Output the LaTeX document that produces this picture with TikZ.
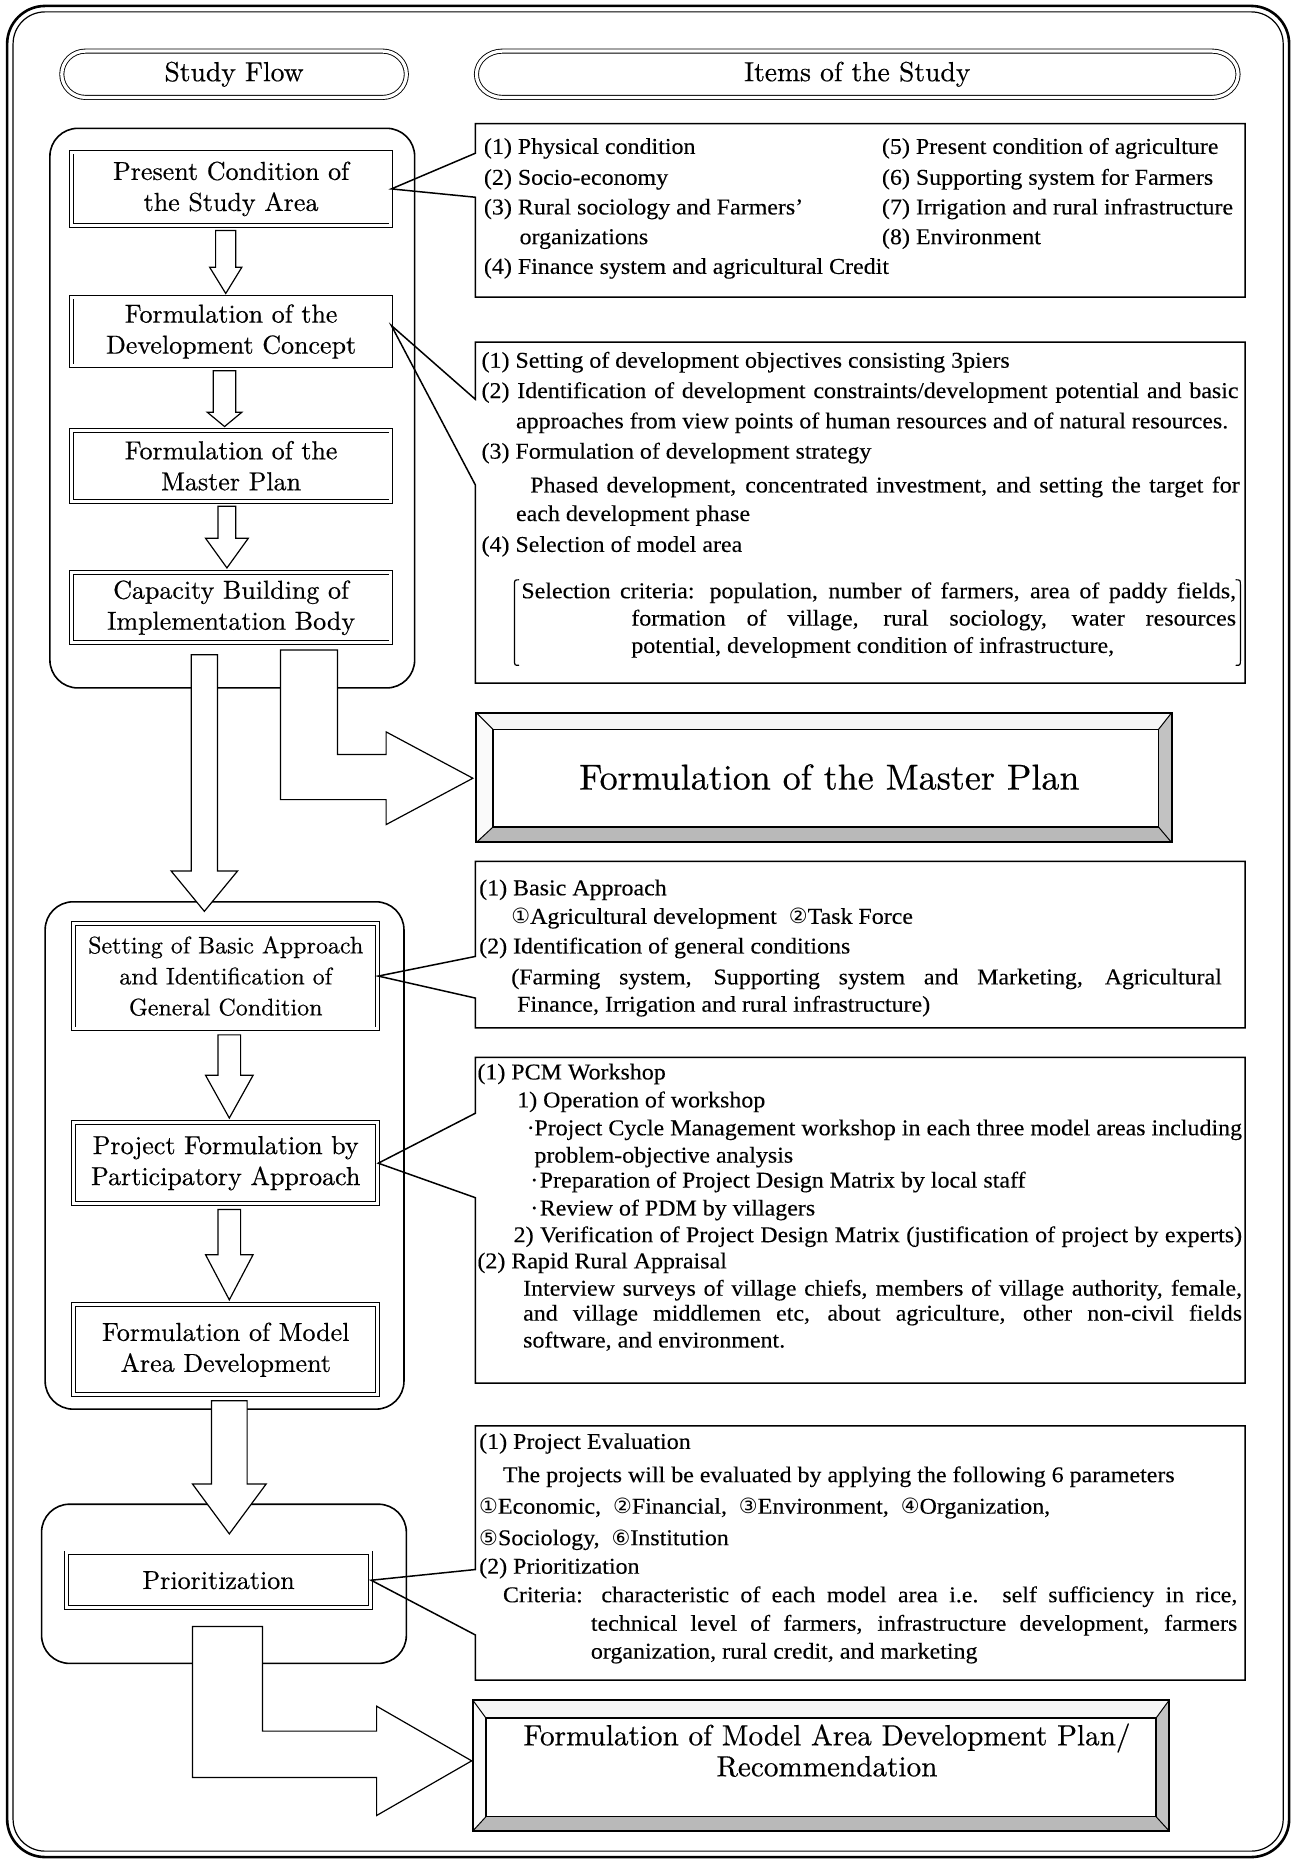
\documentclass[tikz,border=0pt]{standalone}
\usepackage{fontspec}
\newfontfamily\itemfont[FakeStretch=1.06,FakeBold=0.2]{Liberation Serif}
\newfontfamily\flowfont[FakeBold=0.45]{lmroman10-regular.otf}
\newfontfamily\circfont{DejaVu Sans}
\newlength\unitlen
\setlength\unitlen{0.5943pt}
\newcommand\itemsize{\itemfont\fontsize{11.3}{13.5}\selectfont}
\newcommand\flowsize{\flowfont\fontsize{13}{15.5}\selectfont}
\newcommand\circno[1]{{\circfont\fontsize{10.5}{12}\selectfont #1}}
% one line of item text: name, x, centre y, text
\newcommand\itemline[4]{\node[txt] (#1) at (#2,{#3+4.5}) {#4};}
% one justified line of item text: name, x, centre y, width, text
\newcommand\itemjust[5]{\node[txt] (#1) at (#2,{#3+4.5}) {\makebox[#4\unitlen][s]{#5}};}
% block arrow pointing down: centre x, top, head top, tip, half shaft, half head
\newcommand\downblock[6]{\draw[blockarrow] ({#1-#5},#2) -- ({#1+#5},#2) -- ({#1+#5},#3) -- ({#1+#6},#3) -- (#1,#4) -- ({#1-#6},#3) -- ({#1-#5},#3) -- cycle;}
% heading lens: x1, x2, y1, y2, end radius
\newcommand\lens[5]{\draw[lensline] ({#1+#5},#3) -- ({#2-#5},#3) arc[start angle=-90,end angle=90,x radius=#5,y radius={(#4-#3)/2}] -- ({#1+#5},#4) arc[start angle=90,end angle=270,x radius=#5,y radius={(#4-#3)/2}] -- cycle;}
% bevelled result box: x1, y1, x2, y2, inset left, top, right, bottom
\newcommand\bevel[8]{%
  \fill[gray!7] (#1,#2) -- (#3,#2) -- ({#3-#7},{#2+#6}) -- ({#1+#5},{#2+#6}) -- cycle;
  \fill[gray!4] (#1,#2) -- ({#1+#5},{#2+#6}) -- ({#1+#5},{#4-#8}) -- (#1,#4) -- cycle;
  \fill[gray!48] (#3,#2) -- (#3,#4) -- ({#3-#7},{#4-#8}) -- ({#3-#7},{#2+#6}) -- cycle;
  \fill[gray!55] (#1,#4) -- ({#1+#5},{#4-#8}) -- ({#3-#7},{#4-#8}) -- (#3,#4) -- cycle;
  \draw[line width=0.5pt] (#1,#2) -- ({#1+#5},{#2+#6}) (#3,#2) -- ({#3-#7},{#2+#6})
        (#1,#4) -- ({#1+#5},{#4-#8}) (#3,#4) -- ({#3-#7},{#4-#8});
  \draw[line width=0.6pt] ({#1+#5},{#2+#6}) rectangle ({#3-#7},{#4-#8});
  \draw[line width=1pt] (#1,#2) rectangle (#3,#4);}

\begin{document}
\begin{tikzpicture}[x=\unitlen,y=-\unitlen,
  frameouter/.style={draw,line width=1.3pt,rounded corners=19pt},
  frameinner/.style={draw,line width=0.6pt,rounded corners=16pt},
  lensline/.style={draw,line width=0.45pt,double,double distance=1.6pt},
  lenstext/.style={font=\flowfont\fontsize{13.8}{16}\selectfont,inner sep=0pt},
  group/.style={draw,line width=0.8pt,rounded corners=14pt},
  flowbox/.style={draw,line width=0.45pt,double,double distance=1.5pt,align=center,font=\flowsize,inner sep=0pt},
  callout/.style={draw,line width=0.75pt,line join=miter},
  blockarrow/.style={draw,fill=white,line width=0.6pt,line join=miter},
  txt/.style={anchor=base west,inner sep=0pt,font=\itemsize},
  bullet/.style={anchor=base west,inner sep=0pt,font=\itemsize},
  title/.style={align=center,inner sep=0pt},
]
\fill[white] (0,0) rectangle (1089,1568);
\useasboundingbox (0,0) rectangle (1089,1568);

% outer frame
\draw[frameouter] (6,5) rectangle (1085,1563);
\draw[frameinner] (11,10) rectangle (1080,1558);

% column headings
\lens{52}{342}{43}{82}{20}
\node[lenstext] (hdrflow) at (197,62.5) {Study Flow};
\lens{401}{1042}{43}{82}{22}
\node[lenstext] (hdritems) at (721.5,62.5) {Items of the Study};

% groups of the study flow
\draw[group] (42,108) rectangle (349,579);
\draw[group] (38,759) rectangle (340,1186);
\draw[group] (35,1266) rectangle (342,1400);

% steps of the study flow
\node[flowbox,minimum width=269\unitlen,minimum height=62\unitlen] (boxA) at (194.5,159) {Present Condition of\\the Study Area};
\node[flowbox,minimum width=269\unitlen,minimum height=58\unitlen] (boxB) at (194.5,279) {Formulation of the\\Development Concept};
\node[flowbox,minimum width=269\unitlen,minimum height=60\unitlen] (boxC) at (194.5,392) {Formulation of the\\Master Plan};
\node[flowbox,minimum width=269\unitlen,minimum height=59\unitlen] (boxD) at (194.5,511.5) {Capacity Building of\\Implementation Body};
\node[flowbox,minimum width=256\unitlen,minimum height=89\unitlen,font=\flowfont\fontsize{12}{15.5}\selectfont] (boxE) at (190,821.5) {Setting of Basic Approach\\and Identification of\\General Condition};
\node[flowbox,minimum width=256\unitlen,minimum height=68\unitlen] (boxF) at (190,979) {Project Formulation by\\Participatory Approach};
\node[flowbox,minimum width=256\unitlen,minimum height=76\unitlen] (boxG) at (190,1136) {Formulation of Model\\Area Development};
\node[flowbox,minimum width=256\unitlen,minimum height=46\unitlen] (boxH) at (184,1330) {Prioritization};

% callouts with the items of the study
\draw[callout] (400,129) -- (400,104) -- (1048,104) -- (1048,250) -- (400,250) -- (400,166) -- (boxA.east) -- cycle;
\draw[callout] (400,336) -- (400,288) -- (1048,288) -- (1048,575) -- (400,575) -- (400,408) -- ([yshift=3pt]boxB.east) -- cycle;
\draw[callout] (400,805) -- (400,725) -- (1048,725) -- (1048,865) -- (400,865) -- (400,840) -- (boxE.east) -- cycle;
\draw[callout] (400,937) -- (400,890) -- (1048,890) -- (1048,1164) -- (400,1164) -- (400,1008) -- (boxF.east) -- cycle;
\draw[callout] (400,1321) -- (400,1200) -- (1048,1200) -- (1048,1414) -- (400,1414) -- (400,1376) -- (boxH.east) -- cycle;

% items: present condition
\itemline{a1}{407}{125}{(1) Physical condition}
\itemline{a2}{407}{151}{(2) Socio-economy}
\itemline{a3}{407}{176}{(3) Rural sociology and Farmers’}
\itemline{a3b}{437}{201}{organizations}
\itemline{a4}{407}{226}{(4) Finance system and agricultural Credit}
\itemline{a5}{742}{125}{(5) Present condition of agriculture}
\itemline{a6}{742}{151}{(6) Supporting system for Farmers}
\itemline{a7}{742}{176}{(7) Irrigation and rural infrastructure}
\itemline{a8}{742}{201}{(8) Environment}

% items: development concept
\itemline{b1}{405}{305}{(1) Setting of development objectives consisting 3piers}
\itemjust{b2}{405}{330.5}{637}{(2) Identification of development constraints/development potential and basic}
\itemline{b2b}{434}{356}{approaches from view points of human resources and of natural resources.}
\itemline{b3}{405}{381.5}{(3) Formulation of development strategy}
\itemjust{b3b}{446}{410}{597}{Phased development, concentrated investment, and setting the target for}
\itemline{b3c}{434}{434}{each development phase}
\itemline{b4}{405}{460}{(4) Selection of model area}
\itemjust{b4b}{438.5}{499}{601.5}{Selection criteria: population, number of farmers, area of paddy fields,}
\itemjust{b4c}{531}{522}{509}{formation of village, rural sociology, water resources}
\itemline{b4d}{531}{545}{potential, development condition of infrastructure,}
\draw[line width=0.6pt] (437,488) .. controls (433,488) .. (433,493) -- (433,555) .. controls (433,560) .. (437,560);
\draw[line width=0.6pt] (1040,488) .. controls (1044,488) .. (1044,493) -- (1044,555) .. controls (1044,560) .. (1040,560);

% result of the first stage
\bevel{401}{600}{986}{709}{14}{14}{11}{13}
\node[title,font=\flowfont\fontsize{18}{21}\selectfont] (mplan) at (698,654) {Formulation of the Master Plan};

% items: basic approach
\itemline{c1}{403}{749}{(1) Basic Approach}
\itemline{c1b}{430}{773}{\circno{①}Agricultural development\ \ \circno{②}Task Force}
\itemline{c2}{403}{798}{(2) Identification of general conditions}
\itemjust{c2b}{430}{824}{598}{(Farming system, Supporting system and Marketing, Agricultural}
\itemline{c2c}{435}{847}{Finance, Irrigation and rural infrastructure)}

% items: participatory approach
\itemline{d1}{401.5}{904}{(1) PCM Workshop}
\itemline{d1a}{435}{927.5}{1) Operation of workshop}
\node[bullet] (d1dot1) at (443,955.5) {·};
\itemjust{d1b}{449.5}{951}{595.5}{Project Cycle Management workshop in each three model areas including}
\itemline{d1c}{449.5}{974}{problem-objective analysis}
\node[bullet] (d1dot2) at (446,999.5) {·};
\itemline{d1d}{454}{995}{Preparation of Project Design Matrix by local staff}
\node[bullet] (d1dot3) at (446,1023) {·};
\itemline{d1e}{454}{1018.5}{Review of PDM by villagers}
\itemjust{d1f}{432}{1041}{613}{2) Verification of Project Design Matrix (justification of project by experts)}
\itemline{d2}{401.5}{1063}{(2) Rapid Rural Appraisal}
\itemjust{d2a}{440}{1086}{605}{Interview surveys of village chiefs, members of village authority, female,}
\itemjust{d2b}{440}{1107}{605}{and village middlemen etc, about agriculture, other non-civil fields}
\itemline{d2c}{440}{1129.6}{software, and environment.}

% items: prioritization
\itemline{e1}{403}{1215}{(1) Project Evaluation}
\itemline{e1a}{423}{1243}{The projects will be evaluated by applying the following 6 parameters}
\itemline{e1b}{403}{1269.5}{\circno{①}Economic,\ \ \circno{②}Financial,\ \ \circno{③}Environment,\ \ \circno{④}Organization,}
\itemline{e1c}{403}{1296}{\circno{⑤}Sociology,\ \ \circno{⑥}Institution}
\itemline{e2}{403}{1320}{(2) Prioritization}
\itemjust{e2a}{423}{1344}{618}{Criteria: characteristic of each model area i.e. self sufficiency in rice,}
\itemjust{e2b}{497}{1368}{544}{technical level of farmers, infrastructure development, farmers}
\itemline{e2c}{497}{1391.5}{organization, rural credit, and marketing}

% final result
\bevel{398}{1431}{984}{1541}{11}{15}{11}{12}
\node[title,font=\flowfont\fontsize{14.6}{15.5}\selectfont] (mapplan) at (696,1473) {Formulation of Model Area Development Plan/\\Recommendation};

% arrows between the steps
\downblock{190}{194}{225}{247}{8.5}{13.5}
\downblock{189}{312}{347}{359}{9.5}{14.5}
\downblock{191}{426}{453}{478}{7.5}{18}
\downblock{193}{871}{905}{941}{9.5}{20}
\downblock{193}{1018}{1056}{1094}{9.5}{20}
\downblock{172}{551}{733}{767}{11}{28}
\downblock{193}{1179}{1249}{1291}{15}{31}

% bent arrows to the results
\draw[blockarrow] (236,547) -- (284,547) -- (284,635) -- (325,635) -- (325,616) -- (398,655) -- (325,694) -- (325,673) -- (236,673) -- cycle;
\draw[blockarrow] (162,1369) -- (221,1369) -- (221,1457) -- (317,1457) -- (317,1436) -- (397,1482) -- (317,1528) -- (317,1496) -- (162,1496) -- cycle;
\end{tikzpicture}
\end{document}
